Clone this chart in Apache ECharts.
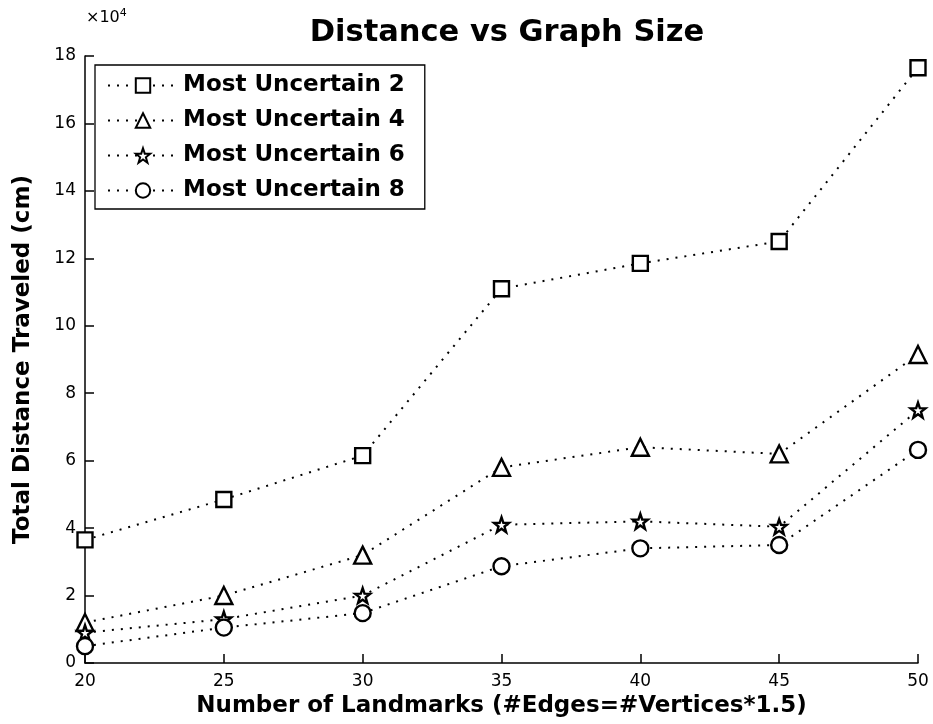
<!DOCTYPE html>
<html><head><meta charset="utf-8">
<script src="https://cdn.jsdelivr.net/npm/echarts@6/dist/echarts.min.js"></script>
<style>html,body{margin:0;padding:0;background:#fff}#c{width:933px;height:724px}</style>
</head><body><div id="c"></div>
<script>
const xValues = [20, 25, 30, 35, 40, 45, 50];
const seriesNames = ['Most Uncertain 2', 'Most Uncertain 4', 'Most Uncertain 6', 'Most Uncertain 8'];
const mu2 = [3.65, 4.85, 6.15, 11.1, 11.85, 12.5, 17.65];
const mu4 = [1.2, 2.0, 3.2, 5.8, 6.4, 6.2, 9.15];
const mu6 = [0.9, 1.3, 2.0, 4.1, 4.2, 4.04, 7.5];
const mu8 = [0.5, 1.05, 1.48, 2.87, 3.4, 3.5, 6.32];
const yTicks = [0, 2, 4, 6, 8, 10, 12, 14, 16, 18];

const star = 'path://M0,-10 L2.35,-3.24 L9.51,-3.09 L3.8,1.24 L5.88,8.09 L0,4 L-5.88,8.09 L-3.8,1.24 L-9.51,-3.09 L-2.35,-3.24 Z';
const symbols = ['rect', 'triangle', star, 'circle'];
const sizes = [15, 17, 15, 16];
const allData = [mu2, mu4, mu6, mu8];

const bold = 'DejaVu Sans, Liberation Sans, sans-serif';
const font = 'DejaVu Sans, Liberation Sans, sans-serif';
const chart = echarts.init(document.getElementById('c'));
chart.setOption({
  animation: false,
  backgroundColor: '#fff',
  title: [
    { text: 'Distance vs Graph Size', left: 502, textAlign: 'center', top: 13,
      textStyle: { fontFamily: bold, fontWeight: 'bold', fontSize: 30.5, color: '#000' } },
    { text: '×10{sup|4}', left: 81, top: 3,
      textStyle: { fontFamily: font, fontWeight: 'normal', fontSize: 16, color: '#000',
        rich: { sup: { fontSize: 11, verticalAlign: 'top', padding: [0,0,9,0], fontFamily: font, color: '#000' } } } }
  ],
  legend: {
    orient: 'vertical', left: 95, top: 65,
    data: seriesNames,
    backgroundColor: '#fff', borderColor: '#000', borderWidth: 1.3,
    padding: [9, 20, 7, 12],
    itemWidth: 70, itemHeight: 18, itemGap: 12,
    textStyle: { fontFamily: bold, fontWeight: 'bold', fontSize: 23, color: '#000' }
  },
  grid: { left: 85, right: 15, top: 56, bottom: 61, containLabel: false },
  xAxis: {
    type: 'value', min: 20, max: 50, interval: 5,
    name: 'Number of Landmarks (#Edges=#Vertices*1.5)', nameLocation: 'middle', nameGap: 32,
    nameTextStyle: { fontFamily: bold, fontWeight: 'bold', fontSize: 23, color: '#000' },
    axisLine: { lineStyle: { color: '#000', width: 1.5 } },
    axisTick: { inside: true, length: 9, lineStyle: { color: '#000', width: 1.5 } },
    axisLabel: { fontFamily: font, fontSize: 17, color: '#000', margin: 10 },
    splitLine: { show: false }
  },
  yAxis: {
    type: 'value', min: 0, max: 18, interval: 2,
    name: 'Total Distance Traveled (cm)', nameLocation: 'middle', nameGap: 50,
    nameTextStyle: { fontFamily: bold, fontWeight: 'bold', fontSize: 23, color: '#000' },
    axisLine: { lineStyle: { color: '#000', width: 1.5 } },
    axisTick: { inside: true, length: 9, lineStyle: { color: '#000', width: 1.5 } },
    axisLabel: { fontFamily: font, fontSize: 17, color: '#000', margin: 9,
      formatter: v => yTicks.includes(v) ? String(v) : '' },
    splitLine: { show: false }
  },
  series: seriesNames.map((n, i) => ({
    name: n, type: 'line',
    data: xValues.map((x, j) => [x, allData[i][j]]),
    symbol: symbols[i], symbolSize: sizes[i],
    showAllSymbol: true,
    lineStyle: { color: '#000', width: 2, type: [2, 7] },
    itemStyle: { color: '#fff', borderColor: '#000', borderWidth: 2.4 },
    z: 3
  }))
});
</script></body></html>
